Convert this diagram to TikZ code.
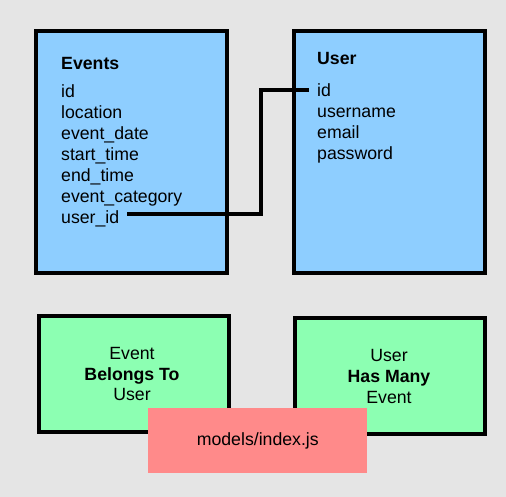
\documentclass[tikz,border=0pt]{standalone}
\usepackage{fontspec}
\setmainfont{Liberation Sans}
\definecolor{bggray}{RGB}{229,229,229}
\definecolor{tblblue}{RGB}{142,206,255}
\definecolor{relgreen}{RGB}{140,255,178}
\definecolor{filered}{RGB}{255,138,138}
\tikzset{
	tbl/.style={draw=black,line width=4pt,fill=tblblue,minimum width=191pt,minimum height=242pt,inner sep=0pt},
	relbox/.style={draw=black,line width=4pt,fill=relgreen,minimum width=190pt,minimum height=116pt,inner sep=0pt},
	field/.style={anchor=base west,inner sep=0pt,font=\fontsize{17.7}{21}\selectfont},
	reltext/.style={anchor=base,inner sep=0pt,font=\fontsize{17.7}{21}\selectfont},
	link/.style={line width=4pt,line join=miter}
}
\begin{document}
\begin{tikzpicture}[x=1pt,y=-1pt]
		\fill[bggray] (0,0) rectangle (506,497);
		\useasboundingbox (0,0) rectangle (506,497);
		% tables
		\node[tbl] (events) at (131.5,152) {};
		\node[tbl] (user) at (389.5,152) {};
		\node[field,font=\fontsize{17.7}{21}\selectfont\bfseries] (ev-head) at (61,70) {Events};
		\node[field] (ev-id) at (61,97.7) {id};
		\node[field] (ev-loc) at (61,118.7) {location};
		\node[field] (ev-date) at (61,139.6) {event\_date};
		\node[field] (ev-start) at (61,160.6) {start\_time};
		\node[field] (ev-end) at (61,181.5) {end\_time};
		\node[field] (ev-cat) at (61,202.4) {event\_category};
		\node[field] (ev-uid) at (61,223.5) {user\_id};
		\node[field,font=\fontsize{17.7}{21}\selectfont\bfseries] (us-head) at (317,65) {User};
		\node[field] (us-id) at (317,96.7) {id};
		\node[field] (us-name) at (317,117.7) {username};
		\node[field] (us-mail) at (317,138.7) {email};
		\node[field] (us-pass) at (317,159.7) {password};
		% foreign key
		\coordinate (bend) at (260.5,150);
		\draw[link] ([xshift=8pt,yshift=9pt]ev-uid.base east) -| (bend) |- ([xshift=-8.5pt,yshift=7pt]us-id.base west);
		% associations
		\node[relbox] (belongs) at (133.75,374) {};
		\node[relbox] (hasmany) at (389.5,376.25) {};
		\node[reltext] (bt-a) at (132,359) {Event};
		\node[reltext,font=\fontsize{17.7}{21}\selectfont\bfseries] (bt-b) at (132,380) {Belongs To};
		\node[reltext] (bt-c) at (132,400.7) {User};
		\node[reltext] (hm-a) at (389,361.7) {User};
		\node[reltext,font=\fontsize{17.7}{21}\selectfont\bfseries] (hm-b) at (389,382.7) {Has Many};
		\node[reltext] (hm-c) at (389,403.3) {Event};
		\node[fill=filered,minimum width=219pt,minimum height=65pt,inner sep=0pt,font=\fontsize{17.7}{21}\selectfont] (index) at (257.8,440.7) {models/index.js};
	\end{tikzpicture}
\end{document}
